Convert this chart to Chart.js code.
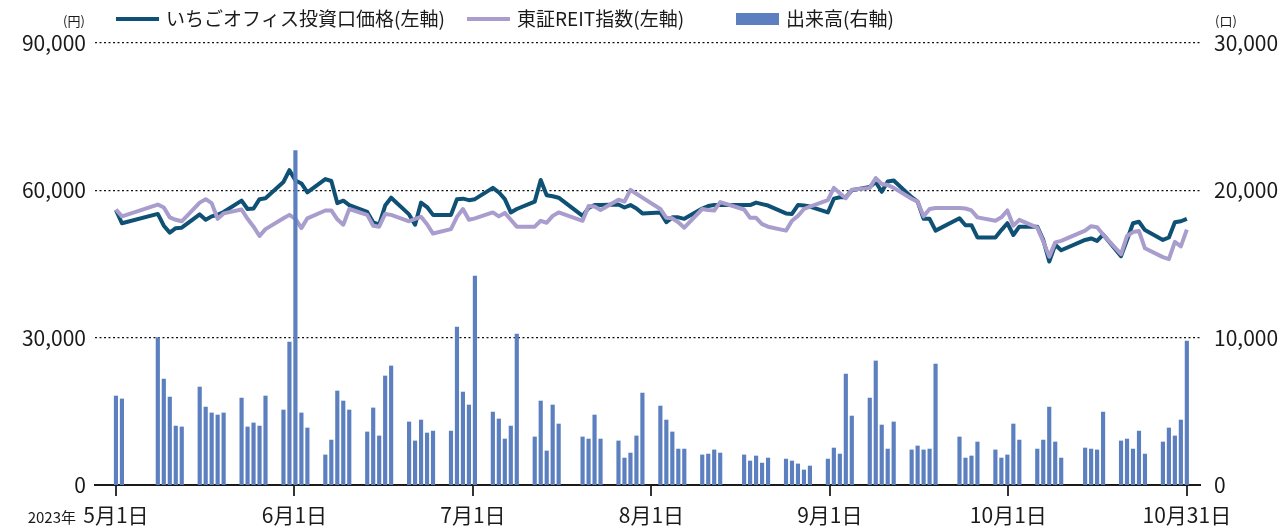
<!DOCTYPE html>
<html lang="ja">
<head>
<meta charset="utf-8">
<script src="https://cdn.jsdelivr.net/npm/chart.js@4/dist/chart.umd.min.js"></script>
<style>
  html, body { margin: 0; padding: 0; background: #ffffff; }
  #wrap { width: 1287px; height: 528px; position: relative; }
</style>
</head>
<body>
<div id="wrap"><canvas id="c" width="1287" height="528"></canvas></div>
<script>
// ---- data ----
const dates = [
  '5/1','5/2','5/8','5/9','5/10','5/11','5/12','5/15','5/16','5/17','5/18','5/19','5/22','5/23','5/24','5/25','5/26','5/29','5/30','5/31',
  '6/1','6/2','6/5','6/6','6/7','6/8','6/9','6/12','6/13','6/14','6/15','6/16','6/19','6/20','6/21','6/22','6/23','6/26','6/27','6/28','6/29','6/30',
  '7/3','7/4','7/5','7/6','7/7','7/10','7/11','7/12','7/13','7/14','7/18','7/19','7/20','7/21','7/24','7/25','7/26','7/27','7/28','7/31',
  '8/1','8/2','8/3','8/4','8/7','8/8','8/9','8/10','8/14','8/15','8/16','8/17','8/18','8/21','8/22','8/23','8/24','8/25','8/28','8/29','8/30','8/31',
  '9/1','9/4','9/5','9/6','9/7','9/8','9/11','9/12','9/13','9/14','9/15','9/19','9/20','9/21','9/22','9/25','9/26','9/27','9/28','9/29',
  '10/2','10/3','10/4','10/5','10/6','10/10','10/11','10/12','10/13','10/16','10/17','10/18','10/19','10/20','10/23','10/24','10/25','10/26','10/27'
];

const priceValues = [
  56000,53300,55200,52800,51400,52300,52400,55100,54000,54700,55000,55600,57900,56200,56300,58200,58400,61700,64100,62000,
  61400,59600,62300,61900,57400,57900,57000,55600,53500,53000,56900,58500,55100,53000,57500,56600,55000,55000,58200,58300,58000,58200,
  60500,59600,58200,55500,56200,57700,62100,59000,58800,58500,54800,56400,57000,57000,57100,56500,57000,56300,55300,55500,
  53500,54500,54500,54200,56300,56800,57000,57000,57000,57000,57500,57200,56900,55300,55200,57000,56900,56700,55500,58300,58600,58600,
  60000,60700,61700,59700,61800,62000,58600,57700,54200,54200,51800,54300,52900,52900,50400,50400,51900,53300,50900,52600,
  52600,49900,45500,48900,47800,49900,50200,49700,51000,46600,49900,53300,53600,51900,49900,50400,53500,53700,54200
];

const reitValues = [
  56100,54700,57100,56500,54500,54000,53700,57500,58200,57400,54200,55300,56100,54200,52600,50700,52100,54300,55000,54200,
  52300,54300,55900,55900,54100,53000,56200,55000,52800,52600,55200,55000,53700,54200,54600,53100,51200,52100,54600,56200,54000,54300,
  55500,54700,55400,54000,52600,52600,53800,53400,54800,55500,53800,56800,56700,56000,58100,57700,60100,59300,58500,56200,
  54400,54300,53500,52400,56200,56000,55900,57600,56100,54400,54400,53100,52600,51800,53800,54800,56200,56700,58000,60500,59400,58400,
  60100,60500,62500,61300,61100,60500,58300,57700,54700,56200,56400,56400,56300,55900,54500,53800,54500,55900,52800,54000,
  52400,49600,46500,49400,49700,51800,52700,52500,51000,47000,50700,51500,51700,48200,46400,46000,49500,48600,52000
];

const volumeValues = [
  6040,5840,10000,7190,5970,4000,3940,6650,5290,4890,4750,4890,5900,3940,4210,4000,6040,5090,9700,22700,
  4890,3870,2040,3050,6380,5700,5090,3600,5230,3330,7400,8080,4280,2990,4410,3530,3660,3660,10720,6310,5430,14180,
  4950,4480,3120,4000,10250,3260,5700,2310,5430,4140,3260,3120,4750,3120,2990,1830,2170,3330,6240,5360,
  4410,3600,2440,2440,2040,2100,2380,2170,2040,1630,1970,1490,1830,1760,1630,1430,1020,1290,1760,2510,2100,7530,
  4680,5900,8420,4070,2440,4280,2380,2650,2380,2440,8210,3260,1830,1970,2920,2380,1830,2040,4140,3050,
  2440,3050,5290,2920,1830,2510,2440,2380,4950,2990,3120,2440,3660,2100,2920,3870,3330,4410,9770
];

const tickLabels = ['5月1日','6月1日','7月1日','8月1日','9月1日','10月1日','10月31日'];
const leftTicks = [0, 30000, 60000, 90000];
const rightTicks = [0, 10000, 20000, 30000];
const seriesNames = ['いちごオフィス投資口価格(左軸)', '東証REIT指数(左軸)', '出来高(右軸)'];

// ---- helpers ----
function dayIndex(s) {
  const p = s.split('/').map(Number);
  return Math.round((Date.UTC(2023, p[0] - 1, p[1]) - Date.UTC(2023, 4, 1)) / 86400000);
}
const xs = dates.map(dayIndex);
const lastDay = xs[xs.length - 1];

const COL_PRICE = '#0f5075';
const COL_REIT = '#a89dcc';
const COL_VOL = '#5b7fbf';
const FONT = '"Noto Sans CJK JP", "Noto Sans", sans-serif';

const fmt = v => Number(v).toLocaleString('en-US');

const overlay = {
  id: 'overlay',
  afterDraw(chart) {
    const ctx = chart.ctx;
    ctx.save();
    ctx.textBaseline = 'middle';
    // legend
    ctx.font = '19px ' + FONT;
    const ly = 19;
    const sw = 43;
    const starts = [116, 467, 736];
    const kinds = ['line', 'line', 'box'];
    const cols = [COL_PRICE, COL_REIT, COL_VOL];
    for (let i = 0; i < seriesNames.length; i++) {
      const x = starts[i];
      ctx.fillStyle = cols[i];
      if (kinds[i] === 'line') {
        ctx.fillRect(x, ly - 2, sw, 4);
      } else {
        ctx.fillRect(x, ly - 6, sw, 12);
      }
      ctx.fillStyle = '#1a1a1a';
      ctx.textAlign = 'left';
      ctx.fillText(seriesNames[i], x + sw + 7, ly);
    }
    // unit labels
    ctx.font = '13px ' + FONT;
    ctx.textAlign = 'center';
    ctx.fillText('(円)', 74, 21);
    ctx.fillText('(口)', 1226, 21);
    // year label
    ctx.font = '15px ' + FONT;
    ctx.textAlign = 'right';
    ctx.fillText('2023年', 76, 517);
    ctx.restore();
  }
};

const ctx = document.getElementById('c').getContext('2d');
new Chart(ctx, {
  type: 'bar',
  data: {
    datasets: [
      {
        type: 'bar',
        label: seriesNames[2],
        data: xs.map((d, i) => ({ x: d, y: volumeValues[i] })),
        backgroundColor: COL_VOL,
        borderWidth: 0,
        barThickness: 3.5,
        grouped: false,
        yAxisID: 'yR',
        order: 0
      },
      {
        type: 'line',
        label: seriesNames[1],
        data: xs.map((d, i) => ({ x: d, y: reitValues[i] })),
        borderColor: COL_REIT,
        borderWidth: 4,
        pointRadius: 0,
        tension: 0,
        borderJoinStyle: 'round',
        yAxisID: 'yL',
        order: 1
      },
      {
        type: 'line',
        label: seriesNames[0],
        data: xs.map((d, i) => ({ x: d, y: priceValues[i] })),
        borderColor: COL_PRICE,
        borderWidth: 4,
        pointRadius: 0,
        tension: 0,
        borderJoinStyle: 'round',
        yAxisID: 'yL',
        order: 2
      }
    ]
  },
  options: {
    responsive: false,
    animation: false,
    devicePixelRatio: 1,
    layout: { padding: { top: 43, left: 0, right: 0, bottom: 0 } },
    plugins: {
      legend: { display: false },
      tooltip: { enabled: false }
    },
    scales: {
      x: {
        type: 'linear',
        position: 'bottom',
        offset: false,
        min: -3.5,
        max: lastDay + 2.2,
        afterBuildTicks(scale) {
          scale.ticks = tickLabels.map((_, i) => ({ value: i * lastDay / (tickLabels.length - 1) }));
        },
        afterFit(scale) { scale.height = 43; },
        ticks: {
          autoSkip: false,
          maxRotation: 0,
          padding: 6,
          color: '#1a1a1a',
          font: { family: FONT, size: 21 },
          callback: (v, i) => tickLabels[i]
        },
        grid: {
          offset: false,
          drawOnChartArea: false,
          drawTicks: true,
          tickLength: 11,
          color: '#333',
          lineWidth: 2
        },
        border: { display: true, color: '#1a1a1a', width: 2 }
      },
      yL: {
        type: 'linear',
        position: 'left',
        min: 0,
        max: 90000,
        afterBuildTicks(scale) { scale.ticks = leftTicks.map(v => ({ value: v })); },
        afterFit(scale) { scale.width = 95; },
        ticks: {
          padding: 9,
          color: '#1a1a1a',
          font: { family: FONT, size: 21 },
          callback: v => fmt(v)
        },
        grid: {
          drawTicks: false,
          color: c => (c.tick && c.tick.value === 0) ? 'rgba(0,0,0,0)' : '#111',
          lineWidth: 1.3
        },
        border: { display: false, dash: [2, 2.5] }
      },
      yR: {
        type: 'linear',
        position: 'right',
        min: 0,
        max: 30000,
        afterBuildTicks(scale) { scale.ticks = rightTicks.map(v => ({ value: v })); },
        afterFit(scale) { scale.width = 87; },
        ticks: {
          padding: 14,
          color: '#1a1a1a',
          font: { family: FONT, size: 21 },
          callback: v => fmt(v)
        },
        grid: { display: false, drawTicks: false },
        border: { display: false }
      }
    }
  },
  plugins: [overlay]
});
</script>
</body>
</html>
